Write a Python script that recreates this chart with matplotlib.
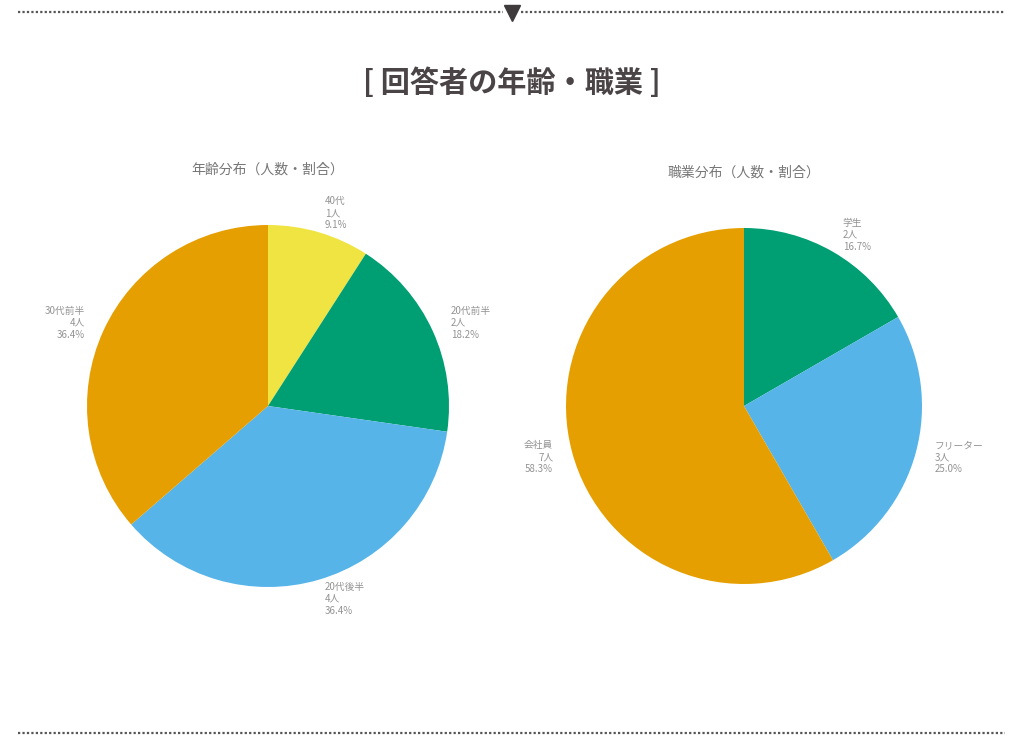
import matplotlib.pyplot as plt
from matplotlib.lines import Line2D

plt.rcParams['font.family'] = ['Noto Sans CJK JP', 'DejaVu Sans']

age_labels = ['40代', '20代前半', '20代後半', '30代前半']
age_counts = [1, 2, 4, 4]
age_colors = ['#F0E442', '#009E73', '#56B4E9', '#E69F00']

job_labels = ['学生', 'フリーター', '会社員']
job_counts = [2, 3, 7]
job_colors = ['#009E73', '#56B4E9', '#E69F00']


def make_labels(names, counts):
    total = sum(counts)
    return ['%s\n%d人\n%.1f%%' % (n, c, c / total * 100) for n, c in zip(names, counts)]


W, H = 1024, 749
fig = plt.figure(figsize=(W / 100, H / 100), dpi=100)

# left pie: center (268, 406), r 181 px ; right pie: center (744, 406), r 178 px
for cx, cy, r, counts, names, colors, title, ty in [
    (268, 406, 181, age_counts, age_labels, age_colors, '年齢分布（人数・割合）', 170),
    (744, 406, 178, job_counts, job_labels, job_colors, '職業分布（人数・割合）', 173),
]:
    size = 2.5 * r
    ax = fig.add_axes([(cx - size / 2) / W, (H - cy - size / 2) / H, size / W, size / H])
    ax.pie(counts, labels=make_labels(names, counts), colors=colors,
           startangle=90, counterclock=False, labeldistance=1.11,
           wedgeprops=dict(linewidth=0),
           textprops=dict(color='#939393', fontsize=7, linespacing=1.25))
    fig.text(cx / W, 1 - ty / H, title, ha='center', va='center',
             color='#777777', fontsize=10)

fig.text(0.5, 1 - 83 / H, '[ 回答者の年齢・職業 ]', ha='center', va='center',
         color='#4a4446', fontsize=21, fontweight='bold')

# dotted separators
y_top = 1 - 12 / H
y_bot = 1 - 733 / H
fig.add_artist(Line2D([18 / W, 503 / W], [y_top, y_top], color='#555555',
                      linestyle=(0, (1, 1)), linewidth=1.6))
fig.add_artist(Line2D([521 / W, 1005 / W], [y_top, y_top], color='#555555',
                      linestyle=(0, (1, 1)), linewidth=1.6))
fig.add_artist(Line2D([512 / W], [1 - 13 / H], marker='v', markersize=11,
                      color='#3f3a3b', linestyle='none'))
fig.add_artist(Line2D([18 / W, 1005 / W], [y_bot, y_bot], color='#555555',
                      linestyle=(0, (1, 1)), linewidth=1.6))

fig.savefig('out.png', dpi=100)
